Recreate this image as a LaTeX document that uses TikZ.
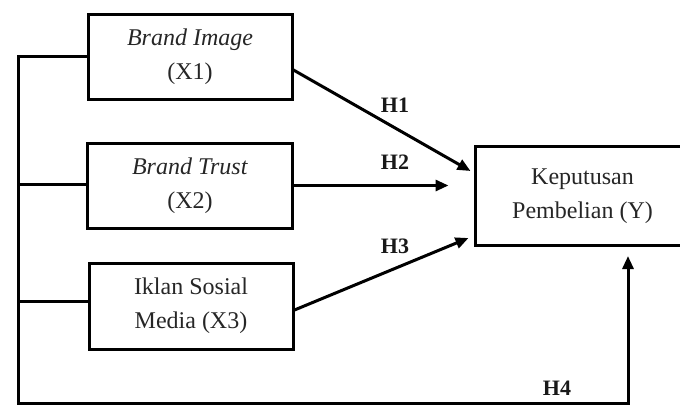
\documentclass[tikz,border=0pt]{standalone}
\usepackage{fontspec}
\setmainfont{Liberation Serif}
\usetikzlibrary{arrows.meta,calc}
\tikzset{
  varbox/.style={draw=black, line width=3pt, align=center, inner sep=0pt,
    text=black!85, font=\fontsize{24}{34}\selectfont},
  hlabel/.style={text=black!90, font=\bfseries\fontsize{22}{26}\selectfont, inner sep=0pt},
  conn/.style={draw=black, line width=3pt},
  arr/.style={conn, -{Triangle[length=13pt,width=11pt]}}
}
\begin{document}
\begin{tikzpicture}[x=1pt,y=-1pt]
\useasboundingbox (0,0) rectangle (680,405);
\clip (0,0) rectangle (680,405);
\node[varbox, minimum width=204pt, minimum height=85pt] (X1) at (190,56.5) {\textit{Brand Image}\\(X1)};
\node[varbox, minimum width=205pt, minimum height=85pt] (X2) at (190,185.5) {\textit{Brand Trust}\\(X2)};
\node[varbox, minimum width=204pt, minimum height=86pt] (X3) at (191,306) {Iklan Sosial\\Media (X3)};
\node[varbox, draw=none, minimum width=211pt, minimum height=96pt] (Y) at (582.5,196) {Keputusan\\Pembelian (Y)};
\draw[conn] (Y.south west) rectangle ([xshift=30pt]Y.north east);

\coordinate (c1) at (18,56.5);
\coordinate (cb) at (18,403);
\coordinate (cr) at (628,403);
\coordinate (ya) at (628,256);

\draw[conn, line cap=rect] (X1.west) -- (c1) -- (cb) -- (cr);
\draw[arr] (cr) -- (ya);
\draw[conn] ([yshift=1pt]X2.west) -- ([yshift=1pt]X2.west -| c1);
\draw[conn] ([yshift=5pt]X3.west) -- ([yshift=5pt]X3.west -| c1);

\draw[arr] ([yshift=-13.5pt]X1.east) -- ([xshift=-5pt,yshift=25pt]Y.west);
\draw[arr] (X2.east) -- ([xshift=-27pt]Y.west |- X2.east);
\draw[arr] ([yshift=-4pt]X3.east) -- ([xshift=-7pt,yshift=-42pt]Y.west);

\node[hlabel] (H1) at (395,105) {H1};
\node[hlabel] (H2) at (395,162) {H2};
\node[hlabel] (H3) at (395,246) {H3};
\node[hlabel] (H4) at (557,388) {H4};
\end{tikzpicture}
\end{document}
